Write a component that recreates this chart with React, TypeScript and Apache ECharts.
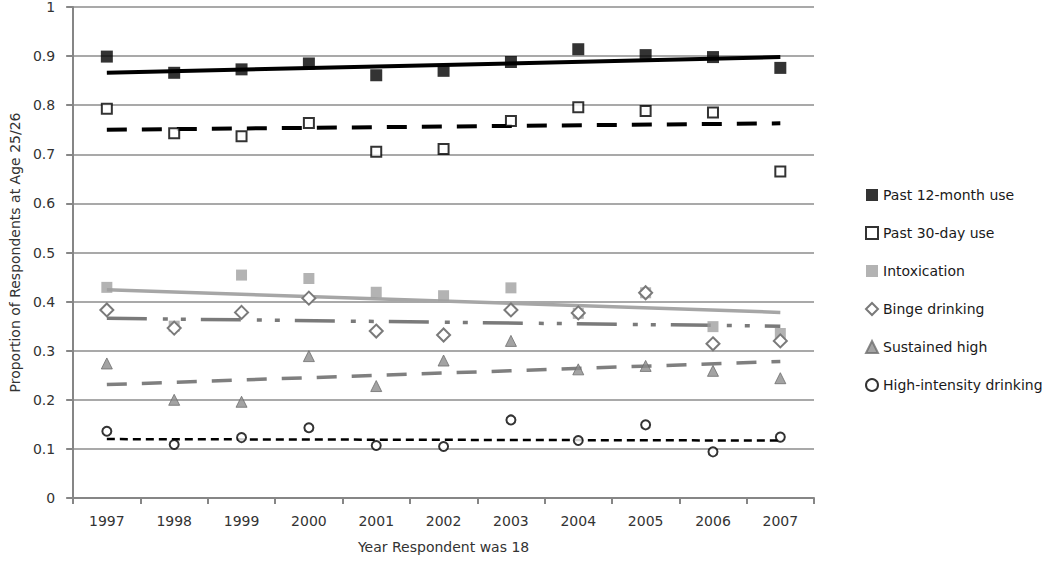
import React, { useEffect, useRef } from "react";
import * as echarts from "echarts";

const years = ["1997", "1998", "1999", "2000", "2001", "2002", "2003", "2004", "2005", "2006", "2007"];

const past12Month = [0.899, 0.866, 0.873, 0.885, 0.861, 0.870, 0.888, 0.914, 0.902, 0.898, 0.876];
const past30Day = [0.793, 0.743, 0.737, 0.764, 0.705, 0.711, 0.768, 0.796, 0.788, 0.785, 0.665];
const intoxication = [0.429, 0.350, 0.454, 0.447, 0.419, 0.412, 0.428, 0.376, 0.418, 0.349, 0.335];
const bingeDrinking = [0.383, 0.346, 0.378, 0.407, 0.340, 0.332, 0.383, 0.377, 0.418, 0.314, 0.320];
const sustainedHigh = [0.274, 0.200, 0.196, 0.289, 0.228, 0.280, 0.320, 0.262, 0.269, 0.259, 0.244];
const highIntensity = [0.136, 0.109, 0.123, 0.143, 0.107, 0.105, 0.159, 0.117, 0.149, 0.094, 0.124];

// Linear trend line end points (first year, last year)
const trend12Month = [0.866, 0.898];
const trend30Day = [0.750, 0.763];
const trendIntoxication = [0.424, 0.378];
const trendBinge = [0.366, 0.350];
const trendSustained = [0.231, 0.278];
const trendHighIntensity = [0.120, 0.117];

const yTicks = [0, 0.1, 0.2, 0.3, 0.4, 0.5, 0.6, 0.7, 0.8, 0.9, 1];

const FONT = "DejaVu Sans";

function trendData(t: number[]) {
  return [
    [years[0], t[0]],
    [years[years.length - 1], t[1]],
  ];
}

export default function App() {
  const ref = useRef<HTMLDivElement>(null);

  useEffect(() => {
    if (!ref.current) return;
    const chart = echarts.init(ref.current, undefined, { renderer: "svg" });

    const trend = (name: string, t: number[], color: string, width: number, type: any) => ({
      name,
      type: "line",
      data: trendData(t),
      showSymbol: false,
      symbol: "none",
      z: 1,
      lineStyle: { color, width, type },
      silent: true,
    });

    const scatter = (name: string, data: number[], symbol: string, size: number, itemStyle: any) => ({
      name,
      type: "scatter",
      data,
      symbol,
      symbolSize: size,
      z: 3,
      itemStyle,
    });

    chart.setOption({
      animation: false,
      backgroundColor: "#ffffff",
      textStyle: { fontFamily: FONT },
      grid: { left: 67, right: 236, top: 7, bottom: 63, containLabel: false },
      legend: {
        orient: "vertical",
        left: 860,
        top: 182,
        itemWidth: 12,
        itemHeight: 12,
        itemGap: 22,
        textStyle: { fontFamily: FONT, fontSize: 14, color: "#1a1a1a", lineHeight: 16 },
        data: ["Past 12-month use", "Past 30-day use", "Intoxication", "Binge drinking", "Sustained high", "High-intensity drinking"],
      },
      xAxis: {
        type: "category",
        data: years,
        boundaryGap: true,
        name: "Year Respondent was 18",
        nameLocation: "middle",
        nameGap: 42,
        nameTextStyle: { fontFamily: FONT, fontSize: 14, color: "#333" },
        axisLine: { show: true, lineStyle: { color: "#868686", width: 2 } },
        axisTick: { show: true, length: 6, lineStyle: { color: "#868686", width: 2 } },
        axisLabel: { fontFamily: FONT, fontSize: 14, color: "#333", margin: 16 },
        splitLine: { show: false },
      },
      yAxis: {
        type: "value",
        min: 0,
        max: 1,
        interval: 0.1,
        name: "Proportion of Respondents at Age 25/26",
        nameLocation: "middle",
        nameGap: 50,
        nameTextStyle: { fontFamily: FONT, fontSize: 14, color: "#333" },
        axisLine: { show: true, lineStyle: { color: "#868686", width: 2 } },
        axisTick: { show: true, length: 7, lineStyle: { color: "#868686", width: 2 } },
        axisLabel: {
          fontFamily: FONT,
          fontSize: 14,
          color: "#333",
          margin: 18,
          formatter: (v: number) => {
            const t = yTicks.find((x) => Math.abs(x - v) < 1e-6);
            return String(t !== undefined ? t : v);
          },
        },
        splitLine: { show: true, lineStyle: { color: "#8c8c8c", width: 1.5 } },
      },
      series: [
        trend("t12", trend12Month, "#000000", 4, "solid"),
        trend("t30", trend30Day, "#000000", 4, [20, 15]),
        trend("tIntox", trendIntoxication, "#a6a6a6", 3.5, "solid"),
        trend("tBinge", trendBinge, "#7a7a7a", 3.5, [40, 16, 5, 13, 5, 15]),
        trend("tSust", trendSustained, "#7f7f7f", 3.5, [20, 15]),
        trend("tHigh", trendHighIntensity, "#000000", 2.5, [8, 5]),
        scatter("Past 12-month use", past12Month, "rect", 12, { color: "#000000" }),
        scatter("Past 30-day use", past30Day, "rect", 10, { color: "#ffffff", borderColor: "#000000", borderWidth: 2 }),
        scatter("Intoxication", intoxication, "rect", 11, { color: "#a0a0a0" }),
        scatter("Binge drinking", bingeDrinking, "diamond", 13, { color: "#ffffff", borderColor: "#7a7a7a", borderWidth: 2, opacity: 1 }),
        scatter("Sustained high", sustainedHigh, "triangle", 11, { color: "#8c8c8c", borderColor: "#6e6e6e", borderWidth: 1 }),
        scatter("High-intensity drinking", highIntensity, "circle", 9, { color: "#ffffff", borderColor: "#000000", borderWidth: 2 }),
      ],
    });

    return () => chart.dispose();
  }, []);

  return <div ref={ref} style={{ width: 1050, height: 561, position: "absolute", left: 0, top: 0 }} />;
}
